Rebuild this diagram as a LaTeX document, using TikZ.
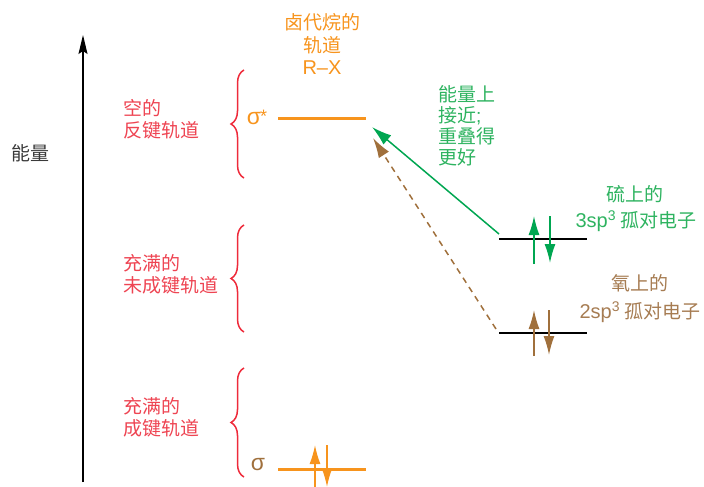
\documentclass[tikz,border=0pt]{standalone}
\usepackage{fontspec}
\setmainfont{Liberation Sans}
\newfontfamily\cjk{Noto Sans CJK SC}
\usetikzlibrary{arrows.meta,decorations.pathreplacing}
\definecolor{orng}{HTML}{F7941D}
\definecolor{redb}{HTML}{EE2A3A}
\definecolor{redt}{HTML}{EE4452}
\definecolor{grn}{HTML}{00A651}
\definecolor{grnt}{HTML}{2EB360}
\definecolor{brn}{HTML}{A0703C}
\definecolor{brnt}{HTML}{A67C52}
\definecolor{axgray}{HTML}{3A3A3A}
\begin{document}
\begin{tikzpicture}[x=1pt,y=-1pt,
  txt/.style={inner sep=0pt,font=\fontsize{19}{22}\selectfont\cjk},
  lbl/.style={txt,align=left,anchor=west,text=redt},
  brc/.style={draw=redb,line width=1.5pt,decorate,decoration={brace,amplitude=13pt}},
  lvl/.style={line width=3pt},
  elec/.style={line width=1.5pt,-{Latex[length=19pt,width=11pt]}},
]
\useasboundingbox (0,0) rectangle (704,487);
% energy axis
\coordinate (ax0) at (83,482);
\coordinate (ax1) at (83,35);
\draw[line width=1.3pt,-{Stealth[length=19pt,width=9pt,inset=3pt]}] (ax0) -- (ax1);
\node[txt,text=axgray] (elab) at (31,153) {能量};
% top label
\node[txt,align=center,text=orng,font=\fontsize{19}{22.5}\selectfont\cjk] (rx) at (322,44) {卤代烷的\\轨道\\{\rmfamily\fontsize{20}{22.5}\selectfont R–X}};
% sigma star level
\coordinate (ss1) at (278,118);
\coordinate (ss2) at (366,118);
\draw[lvl,orng] (ss1) -- (ss2);
\node[inner sep=0pt,text=orng,font=\fontsize{23}{23}\selectfont] (sslab) at (257,117) {σ\kern-1pt\raisebox{2pt}{\fontsize{18}{18}\selectfont *}};
% sigma level
\coordinate (s1) at (278,469);
\coordinate (s2) at (366,469);
\draw[lvl,orng] (s1) -- (s2);
\node[inner sep=0pt,text=brn,font=\fontsize{23}{23}\selectfont] (slab) at (258,465) {σ};
\coordinate (su0) at (315,490); \coordinate (su1) at (315,445);
\coordinate (sd0) at (327,445); \coordinate (sd1) at (327,487);
\draw[elec,orng] (su0) -- (su1);
\draw[elec,orng] (sd0) -- (sd1);
% sulfur level
\coordinate (S1) at (499,239);
\coordinate (S2) at (587,239);
\draw[line width=2.2pt,black] (S1) -- (S2);
\coordinate (Su0) at (534,264); \coordinate (Su1) at (534,216);
\coordinate (Sd0) at (550,216); \coordinate (Sd1) at (550,263);
\draw[elec,grn] (Su0) -- (Su1);
\draw[elec,grn] (Sd0) -- (Sd1);
\node[txt,text=grnt] (Slab1) at (635,194) {硫上的};
\node[txt,text=grnt] (Slab2) at (636,221) {{\rmfamily\fontsize{20}{22}\selectfont 3sp\textsuperscript{3}} 孤对电子};
% oxygen level
\coordinate (O1) at (499,333);
\coordinate (O2) at (587,333);
\draw[line width=2.2pt,black] (O1) -- (O2);
\coordinate (Ou0) at (534,356); \coordinate (Ou1) at (534,310);
\coordinate (Od0) at (549,310); \coordinate (Od1) at (549,355);
\draw[elec,brn] (Ou0) -- (Ou1);
\draw[elec,brn] (Od0) -- (Od1);
\node[txt,text=brnt] (Olab1) at (640,283) {氧上的};
\node[txt,text=brnt] (Olab2) at (640,312) {{\rmfamily\fontsize{20}{22}\selectfont 2sp\textsuperscript{3}} 孤对电子};
% interaction arrows
\coordinate (gS) at (499,234);
\coordinate (gE) at (372,127);
\draw[grn,line width=1.5pt,-{Latex[length=20pt,width=12pt]}] (gS) -- (gE);
\coordinate (bS) at (496,329);
\coordinate (bE) at (373,138);
\draw[brn,line width=1.5pt,dash pattern=on 6pt off 5pt,-{Latex[length=20pt,width=12pt]}] (bS) -- (bE);
\node[txt,align=left,anchor=north west,text=grnt,font=\fontsize{19}{21}\selectfont\cjk] (note) at (438,85) {能量上\\接近{\rmfamily;}\\重叠得\\更好};
% braces and labels
\coordinate (b1a) at (244,178); \coordinate (b1b) at (244,70);
\coordinate (b2a) at (244,332); \coordinate (b2b) at (244,225);
\coordinate (b3a) at (244,477); \coordinate (b3b) at (244,368);
\draw[brc] (b1a) -- (b1b);
\draw[brc] (b2a) -- (b2b);
\draw[brc] (b3a) -- (b3b);
\node[lbl] (l1) at (123,119.5) {空的\\反键轨道};
\node[lbl] (l2) at (123,274) {充满的\\未成键轨道};
\node[lbl] (l3) at (123,417.5) {充满的\\成键轨道};
\end{tikzpicture}
\end{document}
